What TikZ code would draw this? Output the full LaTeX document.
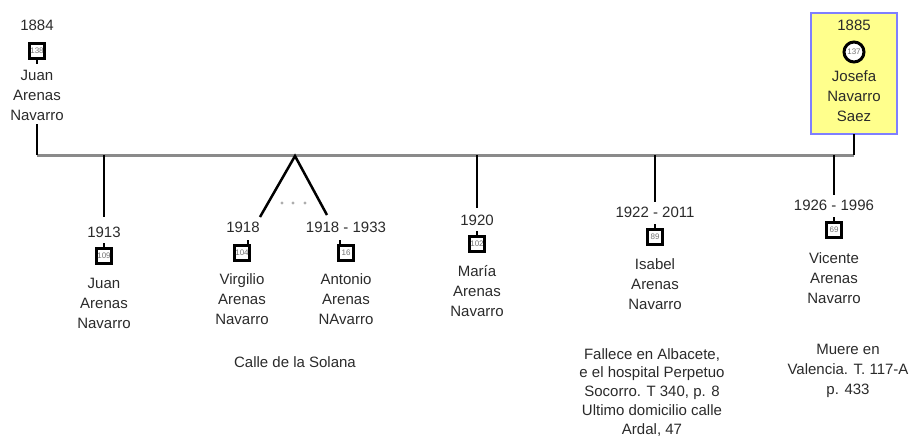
\documentclass[tikz,border=0pt]{standalone}
\usepackage{fontspec}
\setmainfont{Liberation Sans}
\definecolor{famyellow}{HTML}{FFFF8C}
\definecolor{famblue}{HTML}{7F7FFF}
\definecolor{bargray}{HTML}{8A8A8A}
\definecolor{txtgray}{HTML}{2A2A2A}
\begin{document}
\begin{tikzpicture}[x=1pt,y=-1pt,
  txt/.style={font=\fontsize{15}{20}\selectfont, text=txtgray, align=center, inner sep=0pt},
  datetxt/.style={txt},
  idbox/.style={draw=black, line width=2.6pt, minimum size=15pt, inner sep=0pt,
     font=\fontsize{8}{8}\selectfont, text=black!55, fill=white},
  idcirc/.style={circle, draw=black, line width=3pt, minimum size=20pt, inner sep=0pt,
     font=\fontsize{8}{8}\selectfont, text=black!55, fill=white},
  link/.style={line width=2.5pt, black},
  tick/.style={line width=2pt, black},
  bar/.style={line width=3pt, bargray},
  motherbox/.style={draw=famblue, fill=famyellow, line width=2.5pt}]
\useasboundingbox (0,0) rectangle (912,437);

% mother highlight box
\draw[motherbox] (811,13) rectangle (897,134);

% parents
\node[datetxt] (fdate) at (37,25) {1884};
\node[idbox] (fbox) at (37,51) {138};
\node[txt, anchor=north] (fname) at (37,70) {Juan\\Arenas\\Navarro};
\node[datetxt] (mdate) at (854,25) {1885};
\node[idcirc] (mbox) at (854,52) {137};
\node[txt, anchor=north] (mname) at (854,70) {Josefa\\Navarro\\Saez};
\draw[tick] (fbox.south) -- ++(0,4);

\coordinate (bl) at (37,155);
\coordinate (br) at (854,155);
\coordinate (fend) at (37,124);
\coordinate (mend) at (854,134);
\draw[bar] (bl) -- (br);
\draw[link] (fend) -- (bl);
\draw[link] (mend) -- (br);

% child 1: Juan
\coordinate (b1) at (104,155);
\coordinate (e1) at (104,217);
\node[datetxt] (d1) at (104,232) {1913};
\node[idbox] (k1) at (104,256) {109};
\node[txt, anchor=north] (n1) at (104,278) {Juan\\Arenas\\Navarro};
\draw[link] (b1) -- (e1);
\draw[tick] (k1.north) -- ++(0,-4);

% twins
\coordinate (apex) at (295,156);
\coordinate (e2) at (260,217);
\coordinate (e3) at (327,215);
\draw[link] (e2) -- (apex) -- (e3);
\foreach \xx in {282,293,305} \fill[bargray!70] (\xx,203) circle (1.6pt);
\node[datetxt] (d2) at (243,227) {1918};
\node[idbox] (k2) at (242,253) {104};
\node[txt, anchor=north] (n2) at (242,273) {Virgilio\\Arenas\\Navarro};
\draw[tick] ([xshift=6pt]k2.north) -- ++(0,-4);
\node[datetxt] (d3) at (346,227) {1918 - 1933};
\node[idbox] (k3) at (346,253) {16};
\node[txt, anchor=north] (n3) at (346,273) {Antonio\\Arenas\\NAvarro};
\draw[tick] ([xshift=-6pt]k3.north) -- ++(0,-4);

% María
\coordinate (b4) at (477,155);
\coordinate (e4) at (477,208);
\node[datetxt] (d4) at (477,220) {1920};
\node[idbox] (k4) at (477,244) {102};
\node[txt, anchor=north] (n4) at (477,265) {María\\Arenas\\Navarro};
\draw[link] (b4) -- (e4);
\draw[tick] (k4.north) -- ++(0,-4);

% Isabel
\coordinate (b5) at (655,155);
\coordinate (e5) at (655,202);
\node[datetxt] (d5) at (655,212) {1922 - 2011};
\node[idbox] (k5) at (655,237) {89};
\node[txt, anchor=north] (n5) at (655,258) {Isabel\\Arenas\\Navarro};
\draw[link] (b5) -- (e5);
\draw[tick] (k5.north) -- ++(0,-4);

% Vicente
\coordinate (b6) at (834,155);
\coordinate (e6) at (834,195);
\node[datetxt] (d6) at (834,205) {1926 - 1996};
\node[idbox] (k6) at (834,230) {69};
\node[txt, anchor=north] (n6) at (834,252) {Vicente\\Arenas\\Navarro};
\draw[link] (b6) -- (e6);
\draw[tick] (k6.north) -- ++(0,-4);

% notes
\node[txt] (note1) at (295,362) {Calle de la Solana};
\node[txt, anchor=north, font=\fontsize{15}{18.8}\selectfont] (note2) at (652,348)
  {Fallece en Albacete,\\e el hospital Perpetuo\\Socorro. T 340, p. 8\\Ultimo domicilio calle\\Ardal, 47};
\node[txt, anchor=north] (note3) at (848,344)
  {Muere en\\Valencia. T. 117-A\\p. 433};
\end{tikzpicture}
\end{document}
